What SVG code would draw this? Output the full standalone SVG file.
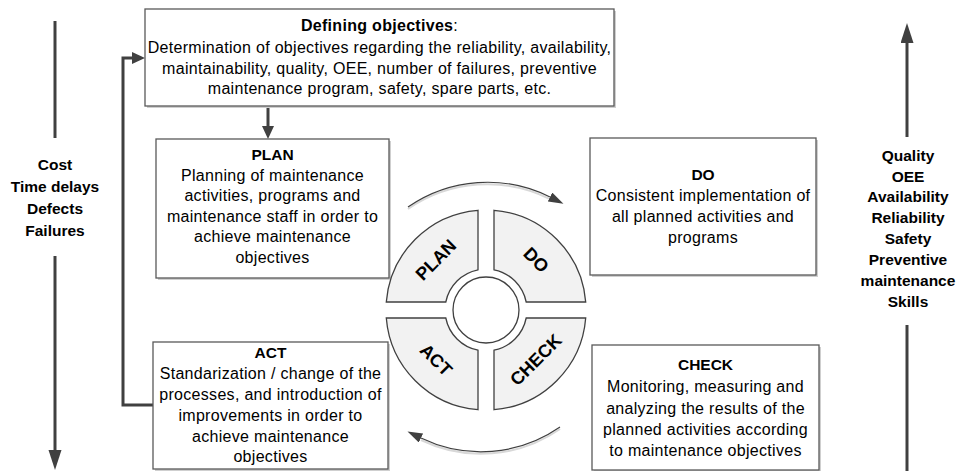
<svg xmlns="http://www.w3.org/2000/svg" width="957" height="471" viewBox="0 0 957 471">
<defs>
<style>
text{font-family:"Liberation Sans",Arial,sans-serif;fill:#000;text-anchor:middle}
.t{font-size:16px;letter-spacing:0.3px}
.b{font-size:15.5px;font-weight:bold}
.seg{font-size:18px;font-weight:bold}
.box{fill:#fff;stroke:#595959;stroke-width:1.3}
.shadow{fill:#cfcfcf}
.conn{fill:none;stroke:#404040;stroke-width:3}
.arc{fill:none;stroke:#404040;stroke-width:1.2}
.arcsh{fill:none;stroke:#d8d8d8;stroke-width:2}
.sg{fill:#f2f2f2;stroke:#404040;stroke-width:1.3}
</style>
<marker id="big" markerUnits="userSpaceOnUse" markerWidth="22" markerHeight="14" refX="0" refY="6.5" orient="auto">
<path d="M0,0 L20,6.5 L0,13 Z" fill="#404040"/>
</marker>
<marker id="med" markerUnits="userSpaceOnUse" markerWidth="14" markerHeight="13" refX="0" refY="6" orient="auto">
<path d="M0,0 L13,6 L0,12 Z" fill="#404040"/>
</marker>
<marker id="sm" markerUnits="userSpaceOnUse" markerWidth="16" markerHeight="11" refX="0" refY="5" orient="auto">
<path d="M0,0 L15,5 L0,10 Z" fill="#404040"/>
</marker>
</defs>

<g id="connectors">
<line class="conn" x1="55" y1="21" x2="55" y2="138"/>
<line class="conn" x1="55" y1="256" x2="55" y2="450" marker-end="url(#big)"/>
<line class="conn" x1="907" y1="137" x2="907" y2="43" marker-end="url(#big)"/>
<line class="conn" x1="907" y1="325" x2="907" y2="471"/>
<polyline class="conn" points="153,405 123,405 123,58 132,58" marker-end="url(#med)"/>
<line class="conn" x1="268" y1="106" x2="268" y2="126" marker-end="url(#med)"/>
<path class="arcsh" d="M408,209 A140,140 0 0 1 550,199"/>
<path class="arc" d="M408,207 A140,140 0 0 1 550,197" marker-end="url(#sm)"/>
<path class="arcsh" d="M560,429 A138,138 0 0 1 421,440"/>
<path class="arc" d="M560,427 A138,138 0 0 1 421,438" marker-end="url(#sm)"/>
</g>

<g id="objectives">
<rect class="shadow" x="147" y="11" width="469" height="97"/>
<rect class="box" x="145" y="9" width="469" height="97"/>
<text class="t" x="379.5" y="31"><tspan font-weight="bold">Defining objectives</tspan>:</text>
<text class="t" x="379.5" y="53">Determination of objectives regarding the reliability, availability,</text>
<text class="t" x="379.5" y="74">maintainability, quality, OEE, number of failures, preventive</text>
<text class="t" x="379.5" y="94">maintenance program, safety, spare parts, etc.</text>
</g>

<g id="plan-box">
<rect class="shadow" x="158" y="141" width="233" height="139"/>
<rect class="box" x="156" y="139" width="233" height="139"/>
<text class="b" x="272.5" y="160">PLAN</text>
<text class="t" x="272.5" y="181">Planning of maintenance</text>
<text class="t" x="272.5" y="201">activities, programs and</text>
<text class="t" x="272.5" y="222">maintenance staff in order to</text>
<text class="t" x="272.5" y="242">achieve maintenance</text>
<text class="t" x="272.5" y="263">objectives</text>
</g>

<g id="do-box">
<rect class="shadow" x="592" y="140" width="226" height="137"/>
<rect class="box" x="590" y="138" width="226" height="137"/>
<text class="b" x="703" y="180">DO</text>
<text class="t" x="703" y="201">Consistent implementation of</text>
<text class="t" x="703" y="222">all planned activities and</text>
<text class="t" x="703" y="243">programs</text>
</g>

<g id="check-box">
<rect class="shadow" x="594" y="347" width="227" height="125"/>
<rect class="box" x="592" y="345" width="227" height="125"/>
<text class="b" x="705.5" y="370">CHECK</text>
<text class="t" x="705.5" y="392">Monitoring, measuring and</text>
<text class="t" x="705.5" y="414">analyzing the results of the</text>
<text class="t" x="705.5" y="435">planned activities according</text>
<text class="t" x="705.5" y="456">to maintenance objectives</text>
</g>

<g id="act-box">
<rect class="shadow" x="155" y="344" width="235" height="127"/>
<rect class="box" x="153" y="342" width="235" height="127"/>
<text class="b" x="270.5" y="358">ACT</text>
<text class="t" x="270.5" y="379">Standarization / change of the</text>
<text class="t" x="270.5" y="400">processes, and introduction of</text>
<text class="t" x="270.5" y="421">improvements in order to</text>
<text class="t" x="270.5" y="442">achieve maintenance</text>
<text class="t" x="270.5" y="462">objectives</text>
</g>

<g id="cycle">
<path id="seg-plan" class="sg" d="M478,210.3 L478,269.8 A41,41 0 0 0 445.8,302 L386.3,302 A100,100 0 0 1 478,210.3 Z"/>
<path id="seg-do" class="sg" d="M494,210.3 A100,100 0 0 1 585.7,302 L526.2,302 A41,41 0 0 0 494,269.8 Z"/>
<path id="seg-check" class="sg" d="M585.7,318 A100,100 0 0 1 494,409.7 L494,350.2 A41,41 0 0 0 526.2,318 Z"/>
<path id="seg-act" class="sg" d="M478,409.7 A100,100 0 0 1 386.3,318 L445.8,318 A41,41 0 0 0 478,350.2 Z"/>
<circle cx="486" cy="310" r="33" fill="#fff" stroke="#404040" stroke-width="1.3"/>
<text class="seg" dominant-baseline="central" transform="translate(436,260) rotate(-45)">PLAN</text>
<text class="seg" dominant-baseline="central" transform="translate(536,260) rotate(45)">DO</text>
<text class="seg" dominant-baseline="central" transform="translate(536,360) rotate(-45)">CHECK</text>
<text class="seg" dominant-baseline="central" transform="translate(436,360) rotate(45)">ACT</text>
</g>

<g id="negatives">
<text class="b" x="55" y="170">Cost</text>
<text class="b" x="55" y="192">Time delays</text>
<text class="b" x="55" y="214">Defects</text>
<text class="b" x="55" y="236">Failures</text>
</g>

<g id="positives">
<text class="b" x="908" y="161">Quality</text>
<text class="b" x="908" y="182">OEE</text>
<text class="b" x="908" y="202">Availability</text>
<text class="b" x="908" y="223">Reliability</text>
<text class="b" x="908" y="244">Safety</text>
<text class="b" x="908" y="265">Preventive</text>
<text class="b" x="908" y="286">maintenance</text>
<text class="b" x="908" y="307">Skills</text>
</g>
</svg>
